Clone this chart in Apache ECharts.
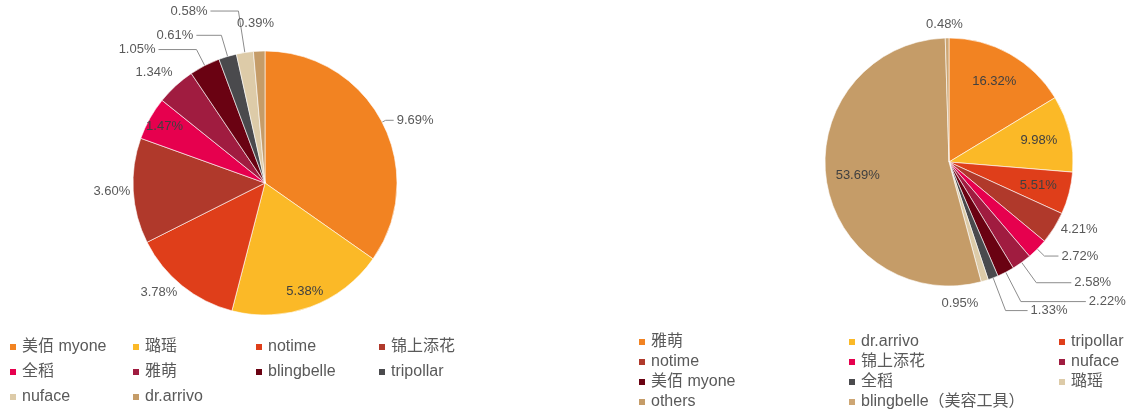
<!DOCTYPE html>
<html>
<head>
<meta charset="utf-8">
<script src="https://cdn.jsdelivr.net/npm/echarts@6/dist/echarts.min.js"></script>
<style>
    html, body { margin: 0; padding: 0; background: #fff; }
    #leftChart { position: absolute; left: 0; top: 0; width: 560px; height: 416px; }
    #rightChart { position: absolute; left: 560px; top: 0; width: 571px; height: 416px; }
</style>
</head>
<body>
<div id="leftChart"></div>
<div id="rightChart"></div>
<script>
// left pie
var leftNames = ['美佰 myone', '璐瑶', 'notime', '锦上添花', '全稻', '雅萌', 'blingbelle', 'tripollar', 'nuface', 'dr.arrivo'];
var leftValues = [9.69, 5.38, 3.78, 3.60, 1.47, 1.34, 1.05, 0.61, 0.58, 0.39];
// right pie
var rightNames = ['雅萌', 'dr.arrivo', 'tripollar', 'notime', '锦上添花', 'nuface', '美佰 myone', '全稻', '璐瑶', 'others', 'blingbelle（美容工具）'];
var rightValues = [16.32, 9.98, 5.51, 4.21, 2.72, 2.58, 2.22, 1.33, 0.95, 53.69, 0.48];

var palette = ['#F28322', '#FBB927', '#DF3E1A', '#B0392B', '#E6004E', '#A01C40', '#6A0212', '#4A4A4D', '#DDCBA8', '#C59C68', '#CDA674'];

var FONT = '"Liberation Sans", "Noto Sans CJK SC", sans-serif';

function pctLabel(p) {
    return p.value.toFixed(2) + '%';
}

// outer: index -> [length, length2, showLine]; inner: indexes labelled inside the slice
// nudge: index -> [dx, dy] small shifts of a label
function buildPie(names, values, center, radius, outer, inner, innerScale, nudge) {
    var outerData = names.map(function (n, i) {
        var item = { name: n, value: values[i], itemStyle: { color: palette[i] } };
        var o = outer[i];
        if (!o) {
            item.label = { show: false };
            item.labelLine = { show: false };
        } else {
            item.labelLine = { show: o[2], length: o[0], length2: o[1] };
        }
        return item;
    });
    var innerData = names.map(function (n, i) {
        return {
            name: n,
            value: values[i],
            label: { show: inner.indexOf(i) >= 0 }
        };
    });
    return [
        {
            type: 'pie',
            center: center,
            radius: radius,
            startAngle: 90,
            avoidLabelOverlap: false,
            itemStyle: { borderColor: '#fff', borderWidth: 0.6 },
            label: {
                position: 'outside',
                formatter: pctLabel,
                color: '#595959',
                fontSize: 13,
                fontFamily: FONT,
                distanceToLabelLine: 3
            },
            labelLine: { smooth: false, lineStyle: { color: '#8c8c8c', width: 1 } },
            labelLayout: function (params) {
                var d = nudge[params.dataIndex];
                if (d) {
                    return { dx: d[0], dy: d[1] };
                }
            },
            emphasis: { disabled: true },
            data: outerData
        },
        {
            type: 'pie',
            center: center,
            radius: radius * innerScale,
            startAngle: 90,
            silent: true,
            avoidLabelOverlap: false,
            itemStyle: { color: 'rgba(0,0,0,0)', borderWidth: 0 },
            label: {
                position: 'inside',
                formatter: pctLabel,
                color: '#404040',
                fontSize: 13,
                fontFamily: FONT
            },
            labelLine: { show: false },
            emphasis: { disabled: true },
            data: innerData
        }
    ];
}

var leftChart = echarts.init(document.getElementById('leftChart'));
leftChart.setOption({
    animation: false,
    legend: {
        left: 8,
        top: 337,
        width: 500,
        padding: 0,
        itemWidth: 8,
        itemHeight: 8,
        itemGap: 5,
        icon: 'rect',
        selectedMode: false,
        textStyle: { color: '#595959', fontSize: 16, fontFamily: FONT, width: 104, lineHeight: 20 },
        data: leftNames
    },
    series: buildPie(leftNames, leftValues, [265, 183], 132, {
        0: [4, 8, true],
        2: [6, 4, false],
        3: [0, 0, false],
        5: [18, 0, false],
        6: [18, 38, true],
        7: [22, 25, true],
        8: [42, 28, true],
        9: [28, 0, false]
    }, [1, 4], 1.7, {
        2: [6, 2],
        5: [12, 0],
        9: [19, 0]
    })
});

var rightChart = echarts.init(document.getElementById('rightChart'));
rightChart.setOption({
    animation: false,
    legend: {
        left: 77,
        top: 334,
        width: 640,
        padding: 0,
        itemWidth: 8,
        itemHeight: 8,
        itemGap: 4,
        icon: 'rect',
        selectedMode: false,
        textStyle: { color: '#595959', fontSize: 16, fontFamily: FONT, width: 192, lineHeight: 16 },
        data: rightNames
    },
    series: buildPie(rightNames, rightValues, [389, 162], 124, {
        3: [2, 2, false],
        4: [10, 14, true],
        5: [25, 35, true],
        6: [33, 65, true],
        7: [35, 22, true],
        8: [20, 0, false],
        10: [14, 0, false]
    }, [0, 1, 2, 9], 1.44, {
        8: [-52, 4],
        10: [19, 0]
    })
});
</script>
</body>
</html>
